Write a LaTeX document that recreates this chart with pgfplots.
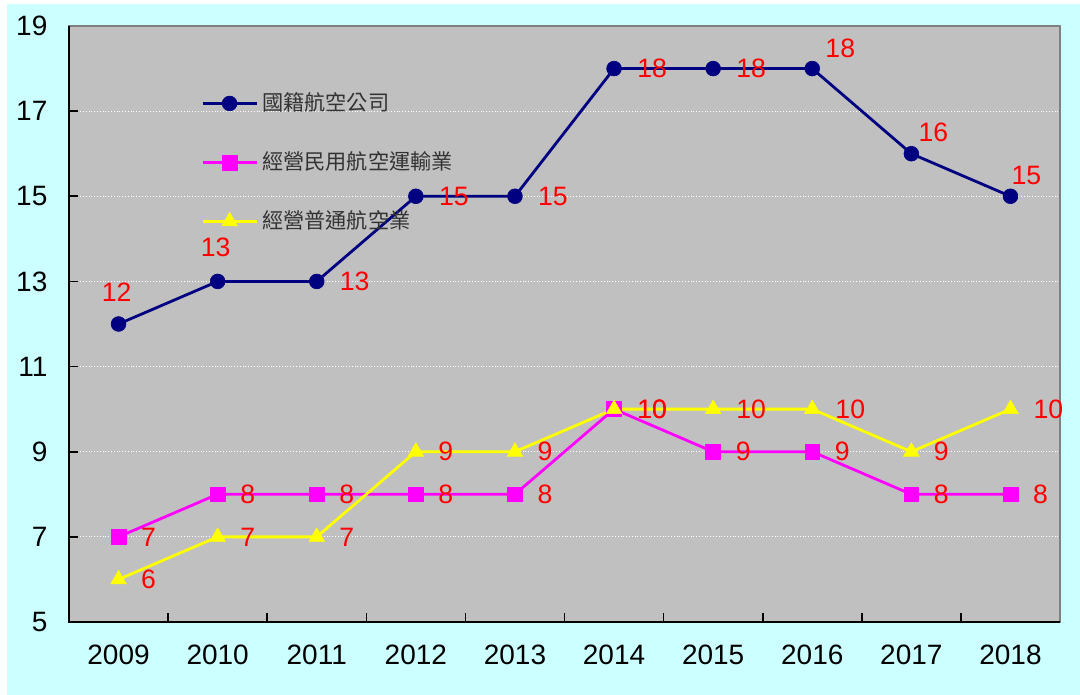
\documentclass[border=0pt]{standalone}
\usepackage{pgfplots}
\pgfplotsset{compat=1.18}
\usepackage{pgfplotstable}
\usepackage{fontspec}
\setmainfont{Liberation Sans}
\newfontfamily\cjk{Noto Sans CJK TC}
\definecolor{bgcyan}{HTML}{CCFFFF}
\definecolor{plotgray}{HTML}{C0C0C0}
\definecolor{navyb}{HTML}{000080}
\definecolor{mag}{HTML}{FF00FF}
\definecolor{yel}{HTML}{FFFF00}

\pgfplotstableread{
x y dx dy
0 12 -1 16
1 13 -1 17
2 13 19 0
3 15 19 0
4 15 19 0
5 18 19 0
6 18 19 0
7 18 14 10
8 16 11 10.5
9 15 8 10.5
}\tblA
\pgfplotstableread{
x y dx dy
0 7 15 0
1 8 15 0
2 8 15 0
3 8 15 0
4 8 15 0
5 10 19 0
6 9 15 0
7 9 15 0
8 8 15 0
9 8 15 0
}\tblB
\pgfplotstableread{
x y dx dy
0 6 15 0
1 7 15 0
2 7 15 0
3 9 15 0
4 9 15 0
5 10 19 0
6 10 19 0
7 10 19 0
8 9 15 0
9 10 19 0
}\tblC

\begin{document}
\begin{tikzpicture}
\path[use as bounding box] (0,0) rectangle (540pt,347.5pt);
\fill[bgcyan] (3.5pt,0) rectangle (540pt,345.5pt);
\begin{axis}[
  at={(34.5pt,36.5pt)}, anchor=south west,
  scale only axis, width=495.5pt, height=298pt,
  xmin=-0.5, xmax=9.5, ymin=5, ymax=19,
  axis background/.style={fill=plotgray},
  axis line style={draw=gray, line width=1pt},
  /pgf/number format/assume math mode=true,
  ytick={5,7,...,19},
  ymajorgrids,
  major grid style={white, densely dotted, line width=0.6pt},
  tick align=inside,
  ytick pos=left,
  xtick pos=bottom,
  major tick length=4.5pt,
  tick style={black, line width=0.8pt},
  yticklabel style={font=\fontsize{14}{14}\selectfont, anchor=east, xshift=-7.3pt},
  xtick={0.5,1.5,...,8.5},
  xticklabels={},
  extra x ticks={0,1,...,9},
  extra x tick labels={2009,2010,2011,2012,2013,2014,2015,2016,2017,2018},
  extra x tick style={major tick length=0pt, xticklabel style={font=\fontsize{14}{14}\selectfont, yshift=-7.8pt}},
  clip=false,
  nodes near coords,
  every node near coord/.append style={font=\fontsize{13.3}{13.3}\selectfont, text=red, inner sep=0pt},
  legend style={draw=none, fill=none, at={(rel axis cs:0.133,0.895)}, anchor=north west,
    font=\cjk\fontsize{10.6}{12}\selectfont, text=black!80, row sep=15pt, inner sep=0pt},
  legend cell align=left,
  legend image code/.code={\draw[mark repeat=2,mark phase=2,#1] plot coordinates {(0pt,0pt) (13.5pt,0pt) (27pt,0pt)};},
  after end axis/.code={\draw[black, line width=1pt] (rel axis cs:0,1) -- (rel axis cs:0,0) -- (rel axis cs:1,0);},
]
\addplot[navyb, line width=1.4pt, mark=*, mark size=3.7pt, mark options={line width=0.3pt},
  visualization depends on={\thisrow{dx} \as \dx},
  visualization depends on={\thisrow{dy} \as \dy},
  every node near coord/.append style={anchor=center, xshift=\dx pt, yshift=\dy pt}]
  table[x=x,y=y] {\tblA};
\addlegendentry{國籍航空公司}
\addplot[mag, line width=1.4pt, mark=square*, mark size=3.7pt, mark options={line width=0.3pt},
  visualization depends on={\thisrow{dx} \as \dx},
  visualization depends on={\thisrow{dy} \as \dy},
  every node near coord/.append style={anchor=center, xshift=\dx pt, yshift=\dy pt}]
  table[x=x,y=y] {\tblB};
\addlegendentry{經營民用航空運輸業}
\addplot[yel, line width=1.4pt, mark=triangle*, mark size=4.5pt, mark options={line width=0.3pt},
  visualization depends on={\thisrow{dx} \as \dx},
  visualization depends on={\thisrow{dy} \as \dy},
  every node near coord/.append style={anchor=center, xshift=\dx pt, yshift=\dy pt}]
  table[x=x,y=y] {\tblC};
\addlegendentry{經營普通航空業}
\end{axis}
\end{tikzpicture}
\end{document}
